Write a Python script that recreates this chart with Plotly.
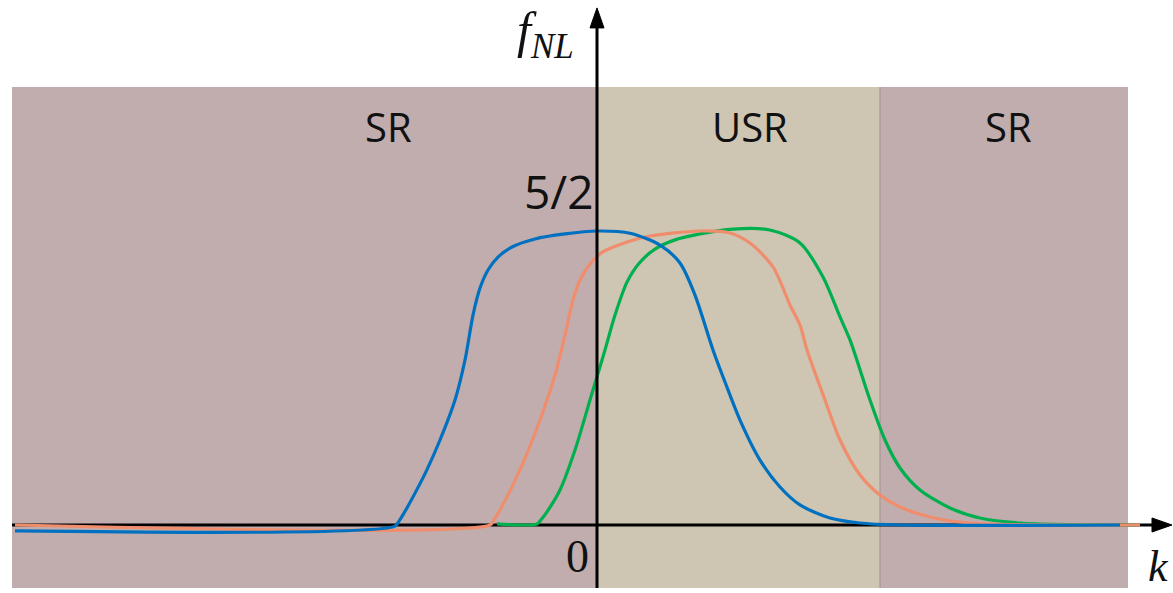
import plotly.graph_objects as go

# ---- data (k in axis units, f_NL values) ----
k_blue = [-5.82, -2.02, -1.98, -1.90, -1.80, -1.70, -1.57, -1.42, -1.32, -1.24, -1.17, -1.09, -0.99, -0.85,
          -0.62, -0.32, 0.0, 0.33, 0.63, 0.83, 0.98, 1.16, 1.28, 1.43, 1.63, 1.83, 2.03, 2.33, 2.63, 3.03, 5.23]
f_blue = [-0.045, -0.008, 0.03, 0.13, 0.27, 0.42, 0.644, 0.947, 1.25, 1.59, 1.795, 1.932, 2.03, 2.106,
          2.167, 2.205, 2.227, 2.21, 2.12, 1.985, 1.742, 1.326, 1.083, 0.795, 0.492, 0.288, 0.152, 0.053,
          0.015, 0.0, 0.0]

k_orange = [-5.82, -1.07, -1.03, -0.97, -0.77, -0.57, -0.42, -0.32, -0.24, -0.17, -0.07, 0.05, 0.23, 0.48,
            1.03, 1.33, 1.53, 1.76, 1.93, 2.03, 2.10, 2.28, 2.43, 2.63, 2.83, 3.03, 3.33, 3.73, 5.43]
f_orange = [0.0, 0.0, 0.04, 0.114, 0.417, 0.795, 1.136, 1.44, 1.705, 1.856, 1.977, 2.065, 2.125, 2.182,
            2.227, 2.212, 2.136, 1.955, 1.667, 1.515, 1.326, 0.947, 0.644, 0.379, 0.227, 0.136, 0.061,
            0.015, 0.0]

k_green = [-1.00, -0.60, -0.56, -0.50, -0.37, -0.22, -0.07, 0.08, 0.18, 0.30, 0.43, 0.58, 0.78, 1.03,
           1.36, 1.73, 2.03, 2.26, 2.43, 2.53, 2.73, 2.88, 3.03, 3.23, 3.53, 3.83, 4.23, 5.38]
f_green = [0.008, 0.008, 0.04, 0.1, 0.265, 0.568, 0.947, 1.326, 1.59, 1.84, 1.99, 2.09, 2.16, 2.205,
           2.242, 2.235, 2.136, 1.879, 1.576, 1.402, 0.947, 0.644, 0.432, 0.265, 0.129, 0.053, 0.015, 0.0]

regions = ["SR", "USR", "SR"]
region_k = [-5.85, 0.0, 2.83, 5.31]      # region boundaries
region_label_k = [-2.09, 1.53, 4.11]     # label centres
region_colors = ["#C1ADAE", "#CEC5B2", "#C1ADAE"]
y_tick_label = "5/2"
y_tick_value = 2.5

W, H = 1173, 593
x_range = [-5.97, 5.76]
y_range = [-0.515, 3.977]
PX_X = W / (x_range[1] - x_range[0])   # pixels per k unit
PX_Y = H / (y_range[1] - y_range[0])   # pixels per f unit

fig = go.Figure()

y_bot, y_top = -0.477, 3.318
# background regions
for i, (name, col) in enumerate(zip(regions, region_colors)):
    fig.add_shape(type="rect", x0=region_k[i], x1=region_k[i + 1], y0=y_bot, y1=y_top,
                  fillcolor=col, line_width=0, layer="below")
    fig.add_annotation(x=region_label_k[i], y=3.02, text=name, showarrow=False,
                       font=dict(family="Open Sans", size=40, color="#111"))
# boundary line between USR and right SR
fig.add_shape(type="line", x0=region_k[2], x1=region_k[2], y0=y_bot, y1=y_top,
              line=dict(color="#A0928A", width=1), layer="below")
# horizontal axis
fig.add_shape(type="line", x0=-5.85, x1=5.6, y0=0, y1=0,
              line=dict(color="black", width=3), layer="below")

colors = {"green": "#00B04F", "orange": "#F08D6C", "blue": "#0070C0"}
for kk, ff, c in [(k_green, f_green, "green"), (k_orange, f_orange, "orange"), (k_blue, f_blue, "blue")]:
    fig.add_trace(go.Scatter(x=kk, y=ff, mode="lines",
                             line=dict(color=colors[c], width=3.2, shape="spline", smoothing=0.8),
                             hoverinfo="skip", showlegend=False))

# vertical axis (above)
fig.add_shape(type="line", x0=0, x1=0, y0=y_bot, y1=3.8,
              line=dict(color="black", width=3), layer="above")
# arrowheads as triangles
tip_y = 3.917
hw = 7 / PX_X
hh = 7 / PX_Y
L_y = 20 / PX_Y
L_x = 20 / PX_X
fig.add_shape(type="path",
              path=f"M {-hw} {tip_y - L_y} L 0 {tip_y} L {hw} {tip_y - L_y} Z",
              fillcolor="black", line=dict(color="black", width=1), layer="above")
tip_x = 5.75
fig.add_shape(type="path",
              path=f"M {tip_x - L_x} {-hh} L {tip_x} 0 L {tip_x - L_x} {hh} Z",
              fillcolor="black", line=dict(color="black", width=1), layer="above")

# labels
fig.add_annotation(x=-0.02, y=2.53, xanchor="right", yanchor="middle",
                   text=y_tick_label, showarrow=False,
                   font=dict(family="Open Sans", size=46, color="#111"))
fig.add_annotation(x=-0.06, y=-0.24, xanchor="right", yanchor="middle", text="0", showarrow=False,
                   font=dict(family="Liberation Serif", size=46, color="#111"))
fig.add_annotation(x=-0.52, y=3.72, xanchor="center", yanchor="middle",
                   text="<i>f</i><sub><i>NL</i></sub>", showarrow=False,
                   font=dict(family="Liberation Serif", size=50, color="#111"))
fig.add_annotation(x=x_range[1] - 3 / PX_X, y=y_range[0] + 1 / PX_Y, xanchor="right", yanchor="bottom",
                   text="<i>k</i>", showarrow=False, borderpad=0,
                   font=dict(family="Liberation Serif", size=44, color="#111"))

fig.update_layout(width=W, height=H, margin=dict(l=0, r=0, t=0, b=0),
                  paper_bgcolor="white", plot_bgcolor="white")
fig.update_xaxes(range=x_range, visible=False, fixedrange=True)
fig.update_yaxes(range=y_range, visible=False, fixedrange=True)

fig.write_html("out.html", config={"displayModeBar": False},
               post_script="document.body.style.margin='0px';document.body.style.overflow='hidden';")
